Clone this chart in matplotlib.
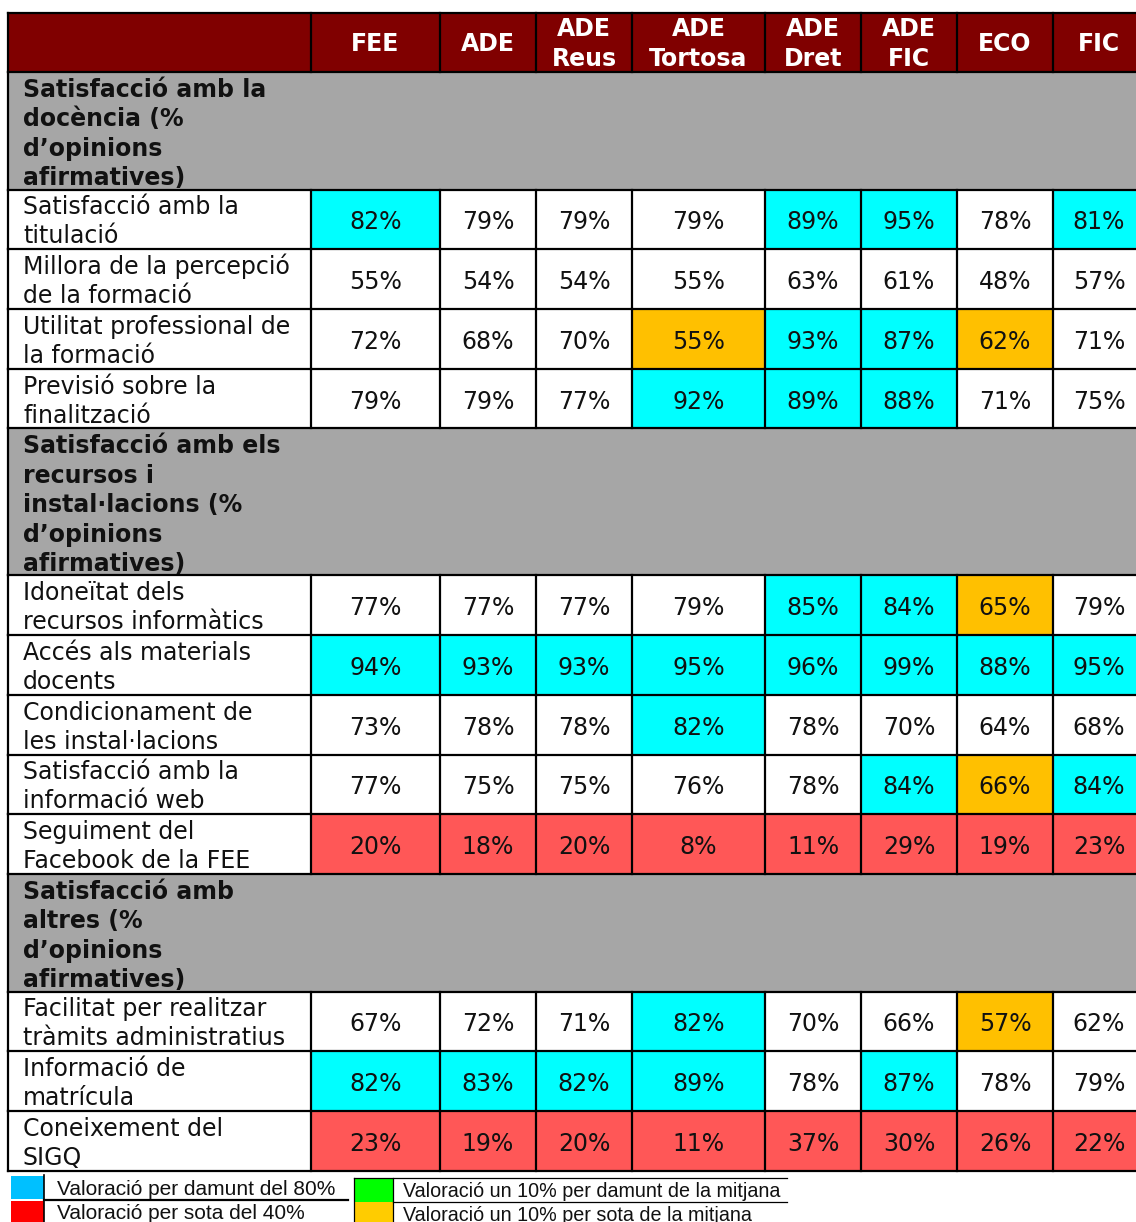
import matplotlib
matplotlib.use("Agg")
import matplotlib.pyplot as plt
from matplotlib.patches import Rectangle

# ---- dades de la taula ----
COLUMNS = ["FEE", "ADE", "ADE\nReus", "ADE\nTortosa", "ADE\nDret", "ADE\nFIC", "ECO", "FIC"]

SECTION_TITLES = [
    "Satisfacció amb la\ndocència (%\nd’opinions\nafirmatives)",
    "Satisfacció amb els\nrecursos i\ninstal·lacions (%\nd’opinions\nafirmatives)",
    "Satisfacció amb\naltres (%\nd’opinions\nafirmatives)",
]

LABELS_DOCENCIA = [
    "Satisfacció amb la\ntitulació",
    "Millora de la percepció\nde la formació",
    "Utilitat professional de\nla formació",
    "Previsió sobre la\nfinalització",
]
VALUES_DOCENCIA = [
    [82, 79, 79, 79, 89, 95, 78, 81],
    [55, 54, 54, 55, 63, 61, 48, 57],
    [72, 68, 70, 55, 93, 87, 62, 71],
    [79, 79, 77, 92, 89, 88, 71, 75],
]
# c = per damunt del 80%, o = 10% per sota de la mitjana, r = per sota del 40%
FLAGS_DOCENCIA = [
    ["c", "", "", "", "c", "c", "", "c"],
    ["", "", "", "", "", "", "", ""],
    ["", "", "", "o", "c", "c", "o", ""],
    ["", "", "", "c", "c", "c", "", ""],
]

LABELS_RECURSOS = [
    "Idoneïtat dels\nrecursos informàtics",
    "Accés als materials\ndocents",
    "Condicionament de\nles instal·lacions",
    "Satisfacció amb la\ninformació web",
    "Seguiment del\nFacebook de la FEE",
]
VALUES_RECURSOS = [
    [77, 77, 77, 79, 85, 84, 65, 79],
    [94, 93, 93, 95, 96, 99, 88, 95],
    [73, 78, 78, 82, 78, 70, 64, 68],
    [77, 75, 75, 76, 78, 84, 66, 84],
    [20, 18, 20, 8, 11, 29, 19, 23],
]
FLAGS_RECURSOS = [
    ["", "", "", "", "c", "c", "o", ""],
    ["c", "c", "c", "c", "c", "c", "c", "c"],
    ["", "", "", "c", "", "", "", ""],
    ["", "", "", "", "", "c", "o", "c"],
    ["r", "r", "r", "r", "r", "r", "r", "r"],
]

LABELS_ALTRES = [
    "Facilitat per realitzar\ntràmits administratius",
    "Informació de\nmatrícula",
    "Coneixement del\nSIGQ",
]
VALUES_ALTRES = [
    [67, 72, 71, 82, 70, 66, 57, 62],
    [82, 83, 82, 89, 78, 87, 78, 79],
    [23, 19, 20, 11, 37, 30, 26, 22],
]
FLAGS_ALTRES = [
    ["", "", "", "c", "", "", "o", ""],
    ["c", "c", "c", "c", "", "c", "", ""],
    ["r", "r", "r", "r", "r", "r", "r", "r"],
]

LEGEND_LEFT = ["Valoració per damunt del 80%", "Valoració per sota del 40%"]
LEGEND_RIGHT = ["Valoració un 10% per damunt de la mitjana",
                "Valoració un 10% per sota de la mitjana"]

# ---- estil ----
HEADER_BG = "#800000"
SECTION_BG = "#A6A6A6"
FILL = {"": "white", "c": "#00FFFF", "o": "#FFC000", "r": "#FF5757"}
LEGEND_COLORS = ["#00C0FF", "#FF0000", "#00FF00", "#FFCC00"]
FONT = "DejaVu Sans"
FS = 17
LW = 1.6
TXT = "#111111"

W, H = 1136, 1222
X_EDGES = [8, 311, 440, 536, 632, 765, 861, 957, 1053, 1145]
TOP = 13
HEADER_H = 59
LINE_H = 29.4
ROW_H = 59.7

fig = plt.figure(figsize=(W / 100, H / 100), dpi=100)
ax = fig.add_axes([0, 0, 1, 1])
ax.set_xlim(0, W)
ax.set_ylim(H, 0)
ax.axis("off")

x0, x_end = X_EDGES[0], X_EDGES[-1]

# capçalera
y = TOP
ax.add_patch(Rectangle((x0, y), x_end - x0, HEADER_H, color=HEADER_BG, lw=0))
for i, name in enumerate(COLUMNS):
    cx = (X_EDGES[i + 1] + X_EDGES[i + 2]) / 2
    lines = name.split("\n")
    for k, line in enumerate(lines):
        cy = y + HEADER_H / 2 + (k - (len(lines) - 1) / 2) * LINE_H
        ax.text(cx, cy + 8.5, line, ha="center", va="baseline", color="white",
                fontsize=FS, fontweight="bold", family=FONT)
hlines = [y, y + HEADER_H]
vsegs = [(y, y + HEADER_H)]
y += HEADER_H

sections = [
    (SECTION_TITLES[0], LABELS_DOCENCIA, VALUES_DOCENCIA, FLAGS_DOCENCIA),
    (SECTION_TITLES[1], LABELS_RECURSOS, VALUES_RECURSOS, FLAGS_RECURSOS),
    (SECTION_TITLES[2], LABELS_ALTRES, VALUES_ALTRES, FLAGS_ALTRES),
]

for title, labels, values, flags in sections:
    tlines = title.split("\n")
    sec_h = len(tlines) * LINE_H
    ax.add_patch(Rectangle((x0, y), x_end - x0, sec_h, color=SECTION_BG, lw=0))
    for k, line in enumerate(tlines):
        ax.text(23, y + 25 + k * LINE_H, line, ha="left", va="baseline",
                fontsize=FS, fontweight="bold", family=FONT, color=TXT)
    ax.plot([x0, x0], [y, y + sec_h], color="black", lw=LW)
    y += sec_h
    hlines.append(y)
    for label, row, flag in zip(labels, values, flags):
        for j, (v, f) in enumerate(zip(row, flag)):
            xa, xb = X_EDGES[j + 1], X_EDGES[j + 2]
            ax.add_patch(Rectangle((xa, y), xb - xa, ROW_H, color=FILL[f], lw=0))
            ax.text((xa + xb) / 2, y + ROW_H / 2 + 10, f"{v}%", ha="center",
                    va="baseline", fontsize=FS, family=FONT, color=TXT)
        llines = label.split("\n")
        for k, line in enumerate(llines):
            cy = y + ROW_H / 2 + (k - (len(llines) - 1) / 2) * 29
            ax.text(23, cy + 9.5, line, ha="left", va="baseline",
                    fontsize=FS, family=FONT, color=TXT)
        vsegs.append((y, y + ROW_H))
        y += ROW_H
        hlines.append(y)

for ya in hlines:
    ax.plot([x0, x_end], [ya, ya], color="black", lw=LW)
for ya, yb in vsegs:
    for xe in X_EDGES[:-1]:
        ax.plot([xe, xe], [ya, yb], color="black", lw=LW)

# llegenda
ax.add_patch(Rectangle((11, 1176), 33, 23, color=LEGEND_COLORS[0], lw=0))
ax.add_patch(Rectangle((11, 1201), 33, 24, color=LEGEND_COLORS[1], lw=0))
ax.plot([44, 44], [1175, 1225], color="black", lw=1.2)
ax.plot([44, 348], [1200, 1200], color="black", lw=1.6)
for k, txt in enumerate(LEGEND_LEFT):
    ax.text(57, 1195 + k * 24, txt, ha="left", va="baseline", fontsize=15,
            family="Liberation Sans", color=TXT)

ax.add_patch(Rectangle((354, 1178), 39, 24, color=LEGEND_COLORS[2], lw=0))
ax.add_patch(Rectangle((354, 1202), 39, 24, color=LEGEND_COLORS[3], lw=0))
ax.plot([354, 787], [1177.5, 1177.5], color="black", lw=0.9)
ax.plot([393, 787], [1202, 1202], color="black", lw=0.9)
ax.plot([393, 393], [1178, 1225], color="black", lw=0.9)
ax.plot([354, 354], [1178, 1225], color="black", lw=0.9)
for k, txt in enumerate(LEGEND_RIGHT):
    ax.text(403, 1197 + k * 24, txt, ha="left", va="baseline", fontsize=14.2,
            family="Liberation Sans", color=TXT)

fig.savefig("out.png", dpi=100)
